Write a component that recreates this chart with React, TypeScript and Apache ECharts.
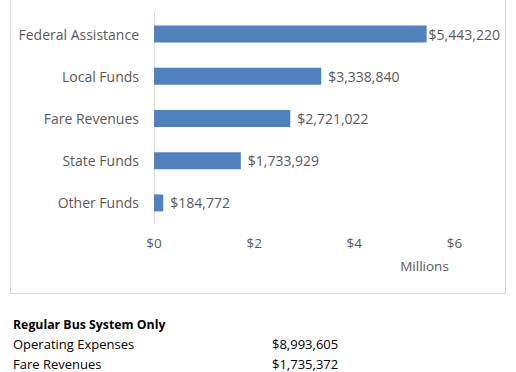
import React, { useEffect, useRef } from "react";
import * as echarts from "echarts";

const categories = ["Other Funds", "State Funds", "Fare Revenues", "Local Funds", "Federal Assistance"];
const values = [184772, 1733929, 2721022, 3338840, 5443220];
const xTicks = [0, 2000000, 4000000, 6000000];
const noteTitle = "Regular Bus System Only";
const noteLabels = ["Operating Expenses", "Fare Revenues"];
const noteValues = [8993605, 1735372];

const fmt = (v: number) => "$" + v.toLocaleString("en-US");
const FONT = "Open Sans, Liberation Sans, sans-serif";

export default function App() {
  const ref = useRef<HTMLDivElement>(null);
  useEffect(() => {
    const chart = echarts.init(ref.current!, null, { renderer: "svg" });
    const maxV = Math.max(...values);
    chart.setOption({
      animation: false,
      grid: { left: 154, right: 61.5, top: 13, bottom: 148, containLabel: false },
      xAxis: {
        type: "value",
        min: xTicks[0],
        max: xTicks[xTicks.length - 1],
        interval: 2000000,
        splitLine: { show: false },
        axisLine: { show: false },
        axisTick: { show: false },
        axisLabel: {
          color: "#595959",
          fontFamily: FONT,
          fontSize: 13.5,
          margin: 12,
          formatter: (v: number) => "$" + v / 1000000,
        },
        name: "Millions",
        nameLocation: "end",
        nameGap: 0,
        nameTextStyle: {
          color: "#595959",
          fontFamily: FONT,
          fontSize: 13.5,
          align: "center",
          verticalAlign: "top",
          padding: [35, 60, 0, 0],
        },
      },
      yAxis: {
        type: "category",
        data: categories,
        axisLine: { show: true, lineStyle: { color: "#d9d9d9", width: 1 } },
        axisTick: { show: false },
        axisLabel: { color: "#595959", fontFamily: FONT, fontSize: 14, margin: 15 },
      },
      series: [
        {
          type: "bar",
          data: values.map((v) => (v === maxV ? { value: v, label: { distance: 2 } } : v)),
          barWidth: 17,
          itemStyle: { color: "#4f81bd" },
          label: {
            show: true,
            position: "right",
            distance: 7,
            color: "#595959",
            fontFamily: FONT,
            fontSize: 14,
            formatter: (p: any) => fmt(p.value),
          },
        },
      ],
      graphic: [
        {
          type: "rect",
          shape: { x: 10.5, y: -2, width: 495, height: 295.5 },
          style: { fill: "none", stroke: "#d9d9d9", lineWidth: 1 },
          silent: true,
        },
        {
          type: "text",
          left: 13,
          top: 318,
          style: { text: noteTitle, font: "bold 12.3px " + FONT, fill: "#000" },
        },
        ...noteLabels.map((l, i) => ({
          type: "text",
          left: 13,
          top: 337 + i * 20,
          style: { text: l, font: "13px " + FONT, fill: "#000" },
        })),
        ...noteValues.map((v, i) => ({
          type: "text",
          left: 272,
          top: 337 + i * 20,
          style: { text: fmt(v), font: "13px " + FONT, fill: "#000" },
        })),
      ],
    });
    return () => chart.dispose();
  }, []);
  return (
    <div
      ref={ref}
      style={{ position: "absolute", left: 0, top: 0, width: 516, height: 372, background: "#fff" }}
    />
  );
}
